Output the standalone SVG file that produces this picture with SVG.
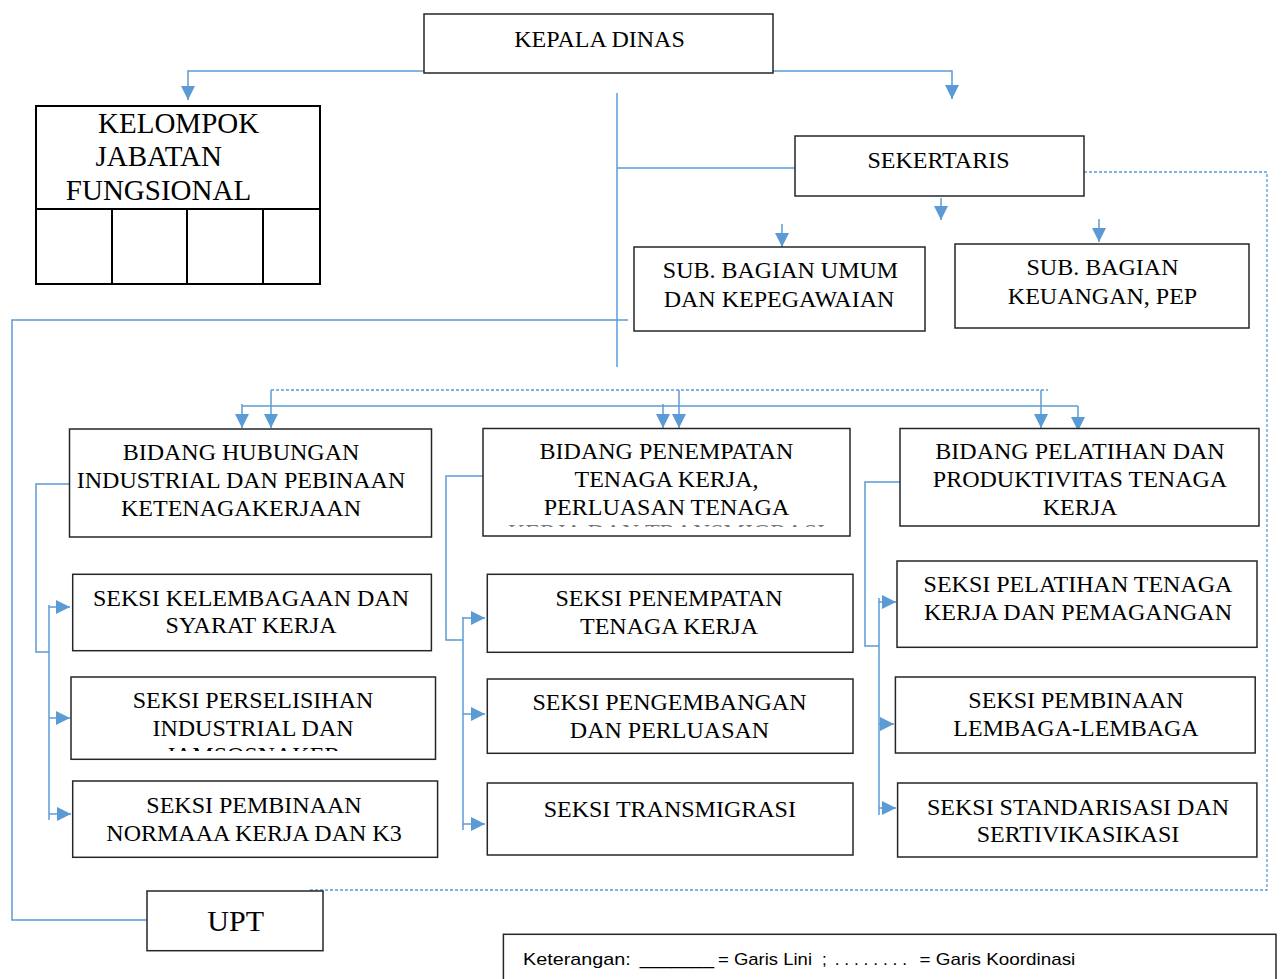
<svg xmlns="http://www.w3.org/2000/svg" width="1282" height="979" viewBox="0 0 1282 979">
<style>
.box{fill:#fff;stroke:#262626;stroke-width:1.5}
.t{font-family:"Liberation Serif","Times New Roman",serif;font-size:24px;fill:#000;text-anchor:middle}
.ln{fill:none;stroke:#5B9BD5;stroke-width:1.5}
.ds{fill:none;stroke:#5B9BD5;stroke-width:1.3;stroke-dasharray:3 2}
.lg{font-family:"Liberation Sans",Arial,sans-serif;font-size:17px;fill:#000}
</style>
<defs>
<marker id="arr" viewBox="0 0 14 14" refX="14" refY="7" markerWidth="14" markerHeight="14" markerUnits="userSpaceOnUse" orient="auto">
<path d="M0,0 L14,7 L0,14 z" fill="#5B9BD5"/>
</marker>
<clipPath id="cp1"><rect x="72" y="740" width="362" height="11"/></clipPath>
<clipPath id="cp2"><rect x="484" y="518" width="364" height="9"/></clipPath>
</defs>

<g id="connectors">
<polyline class="ln" points="424,71 188,71 188,100" marker-end="url(#arr)"/>
<polyline class="ln" points="773,71 952,71 952,99" marker-end="url(#arr)"/>
<line class="ln" x1="617" y1="93" x2="617" y2="367"/>
<line class="ln" x1="617" y1="168" x2="795" y2="168"/>
<polyline class="ln" points="628,320 12,320 12,920 147,920"/>
<line class="ln" x1="941" y1="198" x2="941" y2="220" marker-end="url(#arr)"/>
<line class="ln" x1="782" y1="224" x2="782" y2="247" marker-end="url(#arr)"/>
<line class="ln" x1="1099" y1="219" x2="1099" y2="242" marker-end="url(#arr)"/>
<polyline class="ds" points="1084,172 1267,172 1267,890 310,890"/>
<line class="ds" x1="271" y1="390" x2="1048" y2="390"/>
<line class="ln" x1="242" y1="406" x2="1078" y2="406"/>
<line class="ln" x1="242" y1="404" x2="242" y2="428" marker-end="url(#arr)"/>
<line class="ln" x1="663" y1="404" x2="663" y2="428" marker-end="url(#arr)"/>
<line class="ln" x1="1078" y1="406" x2="1078" y2="431" marker-end="url(#arr)"/>
<line class="ln" x1="271" y1="390" x2="271" y2="428" marker-end="url(#arr)"/>
<line class="ln" x1="679" y1="390" x2="679" y2="428" marker-end="url(#arr)"/>
<line class="ln" x1="1041" y1="390" x2="1041" y2="428" marker-end="url(#arr)"/>
<polyline class="ln" points="69,484 36,484 36,652 49,652"/>
<line class="ln" x1="49" y1="605" x2="49" y2="820"/>
<line class="ln" x1="49" y1="607" x2="70" y2="607" marker-end="url(#arr)"/>
<line class="ln" x1="49" y1="718" x2="70" y2="718" marker-end="url(#arr)"/>
<line class="ln" x1="49" y1="814" x2="71" y2="814" marker-end="url(#arr)"/>
<polyline class="ln" points="483,476 446,476 446,640 463,640"/>
<line class="ln" x1="463" y1="617" x2="463" y2="830"/>
<line class="ln" x1="463" y1="618" x2="485" y2="618" marker-end="url(#arr)"/>
<line class="ln" x1="463" y1="714" x2="485" y2="714" marker-end="url(#arr)"/>
<line class="ln" x1="463" y1="824" x2="485" y2="824" marker-end="url(#arr)"/>
<polyline class="ln" points="900,482 865,482 865,646 879,646"/>
<line class="ln" x1="879" y1="598" x2="879" y2="815"/>
<line class="ln" x1="879" y1="602" x2="896" y2="602" marker-end="url(#arr)"/>
<line class="ln" x1="879" y1="724" x2="894" y2="724" marker-end="url(#arr)"/>
<line class="ln" x1="879" y1="808" x2="896" y2="808" marker-end="url(#arr)"/>
</g>

<g id="kepala-dinas">
<rect class="box" x="424" y="14" width="349" height="59"/>
<text class="t" x="599.5" y="47">KEPALA DINAS</text>
</g>

<g id="kelompok-jabatan-fungsional">
<rect x="36" y="106" width="284" height="178" fill="#fff" stroke="#000" stroke-width="2"/>
<line x1="36" y1="209" x2="320" y2="209" stroke="#000" stroke-width="2"/>
<line x1="112" y1="209" x2="112" y2="284" stroke="#000" stroke-width="2"/>
<line x1="187" y1="209" x2="187" y2="284" stroke="#000" stroke-width="2"/>
<line x1="263" y1="209" x2="263" y2="284" stroke="#000" stroke-width="2"/>
<text class="t" style="font-size:29px" x="178.6" y="133">KELOMPOK</text>
<text class="t" style="font-size:29px" x="158.7" y="166">JABATAN</text>
<text class="t" style="font-size:29px" x="158.5" y="200">FUNGSIONAL</text>
</g>

<g id="sekertaris">
<rect class="box" x="795" y="136" width="289" height="60"/>
<text class="t" x="938.5" y="168">SEKERTARIS</text>
</g>

<g id="sub-bagian-umum">
<rect class="box" x="634" y="247" width="291" height="84"/>
<text class="t" x="780.5" y="278">SUB. BAGIAN UMUM</text>
<text class="t" x="779" y="307">DAN KEPEGAWAIAN</text>
</g>

<g id="sub-bagian-keuangan">
<rect class="box" x="955" y="244" width="294" height="84"/>
<text class="t" x="1102.5" y="275">SUB. BAGIAN</text>
<text class="t" x="1102.5" y="303.5">KEUANGAN, PEP</text>
</g>

<g id="bidang-hubungan">
<rect class="box" x="69.5" y="429" width="362" height="108"/>
<text class="t" x="241" y="460">BIDANG HUBUNGAN</text>
<text class="t" x="241" y="488">INDUSTRIAL DAN PEBINAAN</text>
<text class="t" x="241" y="516">KETENAGAKERJAAN</text>
</g>

<g id="bidang-penempatan">
<rect class="box" x="483" y="428.5" width="367" height="107.5"/>
<text class="t" x="666.5" y="459">BIDANG PENEMPATAN</text>
<text class="t" x="666.5" y="487">TENAGA KERJA,</text>
<text class="t" x="666.5" y="515">PERLUASAN TENAGA</text>
<text class="t" x="666.5" y="540" clip-path="url(#cp2)" fill-opacity="0.55">KERJA DAN TRANSMIGRASI</text>
</g>

<g id="bidang-pelatihan">
<rect class="box" x="900" y="428.5" width="359" height="97.5"/>
<text class="t" x="1080" y="459">BIDANG PELATIHAN DAN</text>
<text class="t" x="1080" y="487">PRODUKTIVITAS TENAGA</text>
<text class="t" x="1080" y="515">KERJA</text>
</g>

<g id="seksi-kelembagaan">
<rect class="box" x="72.7" y="574.3" width="358.7" height="76.4"/>
<text class="t" x="251" y="606">SEKSI KELEMBAGAAN DAN</text>
<text class="t" x="251" y="633">SYARAT KERJA</text>
</g>

<g id="seksi-perselisihan">
<rect class="box" x="71" y="677" width="364.5" height="82.3"/>
<text class="t" x="253" y="708">SEKSI PERSELISIHAN</text>
<text class="t" x="253" y="736">INDUSTRIAL DAN</text>
<text class="t" x="253" y="763" clip-path="url(#cp1)">JAMSOSNAKER</text>
</g>

<g id="seksi-pembinaan-norma">
<rect class="box" x="72.7" y="781" width="364.9" height="76.3"/>
<text class="t" x="254" y="813">SEKSI PEMBINAAN</text>
<text class="t" x="254" y="841">NORMAAA KERJA DAN K3</text>
</g>

<g id="seksi-penempatan">
<rect class="box" x="487.3" y="574.3" width="365.7" height="78"/>
<text class="t" x="669" y="606">SEKSI PENEMPATAN</text>
<text class="t" x="669" y="634">TENAGA KERJA</text>
</g>

<g id="seksi-pengembangan">
<rect class="box" x="487.3" y="679" width="365.7" height="74.3"/>
<text class="t" x="669.5" y="710">SEKSI PENGEMBANGAN</text>
<text class="t" x="669.5" y="738">DAN PERLUASAN</text>
</g>

<g id="seksi-transmigrasi">
<rect class="box" x="487.3" y="783" width="365.7" height="72"/>
<text class="t" x="669.8" y="817">SEKSI TRANSMIGRASI</text>
</g>

<g id="seksi-pelatihan">
<rect class="box" x="897" y="561" width="360" height="86.3"/>
<text class="t" x="1078" y="592">SEKSI PELATIHAN TENAGA</text>
<text class="t" x="1078" y="620">KERJA DAN PEMAGANGAN</text>
</g>

<g id="seksi-pembinaan-lembaga">
<rect class="box" x="895.4" y="677" width="359.8" height="76"/>
<text class="t" x="1076" y="708">SEKSI PEMBINAAN</text>
<text class="t" x="1076" y="736">LEMBAGA-LEMBAGA</text>
</g>

<g id="seksi-standarisasi">
<rect class="box" x="897.6" y="783" width="359.3" height="74"/>
<text class="t" x="1078" y="815">SEKSI STANDARISASI DAN</text>
<text class="t" x="1078" y="842">SERTIVIKASIKASI</text>
</g>

<g id="upt">
<rect class="box" x="147" y="891" width="176" height="59.7"/>
<text class="t" style="font-size:30px" x="235.7" y="931">UPT</text>
</g>

<g id="legend">
<rect class="box" x="503.4" y="934.3" width="772.6" height="60"/>
<text class="lg" x="523" y="965" textLength="107.7" lengthAdjust="spacingAndGlyphs">Keterangan:</text>
<text class="lg" x="639.8" y="965" textLength="74.2" lengthAdjust="spacingAndGlyphs">_______</text>
<text class="lg" x="718" y="965" textLength="94" lengthAdjust="spacingAndGlyphs">= Garis Lini</text>
<text class="lg" x="822" y="965">;</text>
<text class="lg" x="834.7" y="965" textLength="72.3" lengthAdjust="spacingAndGlyphs">. . . . . . . .</text>
<text class="lg" x="919.6" y="965" textLength="155.7" lengthAdjust="spacingAndGlyphs">= Garis Koordinasi</text>
</g>
</svg>
